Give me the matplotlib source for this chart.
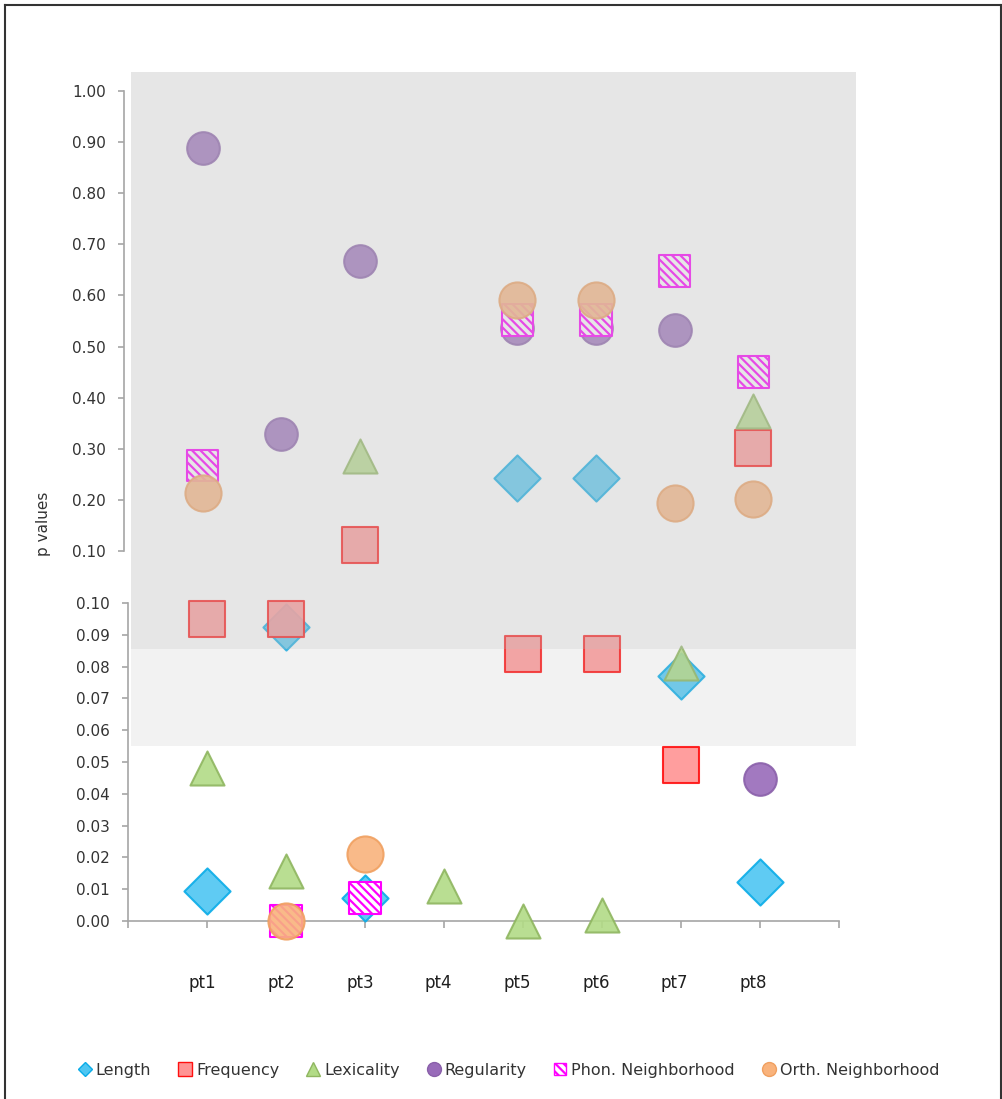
# p values per participant, split into an upper (0.1-1.0) and a lower (0-0.1) panel

import numpy as np
import matplotlib
matplotlib.use("Agg")
import matplotlib.pyplot as plt
import matplotlib.transforms as mtransforms
from matplotlib.lines import Line2D
from matplotlib.patches import Rectangle, Patch

categories = ["pt1", "pt2", "pt3", "pt4", "pt5", "pt6", "pt7", "pt8"]

length = [0.0094, 0.0925, 0.0072, np.nan, 0.243, 0.243, 0.077, 0.0123]
frequency = [0.095, 0.095, 0.112, np.nan, 0.084, 0.084, 0.049, 0.302]
lexicality = [0.048, 0.0157, 0.286, 0.011, 0.0, 0.002, 0.081, 0.374]
regularity = [0.889, 0.329, 0.668, np.nan, 0.536, 0.536, 0.532, 0.0447]
phon_neigh = [0.268, 0.0, 0.0072, np.nan, 0.552, 0.552, 0.648, 0.45]
orth_neigh = [0.213, 0.0, 0.021, np.nan, 0.591, 0.591, 0.194, 0.202]

upper_ticks = [0.1, 0.2, 0.3, 0.4, 0.5, 0.6, 0.7, 0.8, 0.9, 1.0]
lower_ticks = [0.0, 0.01, 0.02, 0.03, 0.04, 0.05, 0.06, 0.07, 0.08, 0.09, 0.1]

W, H = 1003, 1099
axis_color = "#a6a6a6"
text_color = "#333333"
phon_hatch = "\\\\\\\\"

plt.rcParams["hatch.linewidth"] = 1.6

fig = plt.figure(figsize=(W / 100, H / 100), dpi=100)


def px_box(left, top, right, bottom):
    # pixel box (image coords) -> figure fraction [x0, y0, w, h]
    return [left / W, 1 - bottom / H, (right - left) / W, (bottom - top) / H]


ax_up = fig.add_axes(px_box(124, 91, 832, 551))
ax_lo = fig.add_axes(px_box(128, 603, 839, 921))

series = [
    # values, marker, size, face, edge, hatch
    (length, "D", 23.5, "#4ec6f2", "#0aace8", None),
    (frequency, "s", 26.5, "#ff9494", "#ff1010", None),
    (lexicality, "^", 24.5, "#b2db86", "#8fb660", None),
    (regularity, "o", 23.5, "#986bb9", "#8a60aa", None),
    (phon_neigh, "s", 22.5, "white", "#ff00ff", phon_hatch),
    (orth_neigh, "o", 26.0, "#f9b37c", "#f0a060", None),
]

x = np.arange(1, len(categories) + 1)
for z, (vals, mk, ms, fc, ec, hatch) in enumerate(series):
    vals = np.array(vals, dtype=float)
    upper = vals > 0.1
    lower = vals <= 0.1
    for ax, mask in ((ax_up, upper), (ax_lo, lower)):
        if not mask.any():
            continue
        ax.scatter(
            x[mask], vals[mask], s=ms ** 2, marker=mk,
            facecolor=fc, edgecolor=ec, linewidth=1.5, hatch=hatch,
            alpha=0.9 if hatch is None else 1.0,
            zorder=3 + z, clip_on=False,
        )

# upper panel: only the value axis is shown
ax_up.set_xlim(0, 9)
ax_up.set_ylim(0.1, 1.0)
ax_up.set_yticks(upper_ticks)
ax_up.set_yticklabels([f"{t:.2f}" for t in upper_ticks])
ax_up.set_xticks([])
for side in ["top", "right", "bottom"]:
    ax_up.spines[side].set_visible(False)

# lower panel
ax_lo.set_xlim(0, 9)
ax_lo.set_ylim(0.0, 0.1)
ax_lo.set_yticks(lower_ticks)
ax_lo.set_yticklabels([f"{t:.2f}" for t in lower_ticks])
ax_lo.set_xticks(np.arange(0, 10))
ax_lo.set_xticklabels([])
for side in ["top", "right"]:
    ax_lo.spines[side].set_visible(False)

for ax in (ax_up, ax_lo):
    ax.patch.set_alpha(0)
    ax.spines["left"].set_color(axis_color)
    ax.spines["bottom"].set_color(axis_color)
    ax.spines["left"].set_linewidth(1.2)
    ax.spines["bottom"].set_linewidth(1.2)
    ax.tick_params(axis="y", direction="out", length=4.5, width=1.2,
                   color=axis_color, labelcolor=text_color, labelsize=11, pad=8.5)
    ax.tick_params(axis="x", direction="out", length=5, width=1.2,
                   color=axis_color)

# category labels sit well below the lower axis, spaced like the upper panel
trans = mtransforms.blended_transform_factory(ax_up.transData, fig.transFigure)
for xi, lab in zip(x, categories):
    fig.text(xi, 1 - 983 / H, lab, transform=trans, ha="center", va="center",
             fontsize=12, color="#1f1f1f")

fig.text(44 / W, 1 - 524 / H, "p values", rotation=90, ha="center", va="center",
         fontsize=11, color=text_color)

# grey semi-transparent bands laid over the plot
fig.add_artist(Rectangle(px_box(131, 72, 856, 649)[:2], 725 / W, 577 / H,
                         transform=fig.transFigure, facecolor="#bfbfbf",
                         alpha=0.39, edgecolor="none", zorder=20))
fig.add_artist(Rectangle(px_box(131, 649, 856, 746)[:2], 725 / W, 97 / H,
                         transform=fig.transFigure, facecolor="#bfbfbf",
                         alpha=0.2, edgecolor="none", zorder=20))

# outer frame of the picture
for xs, ys in (([5 / W, 5 / W], [0, 1 - 5 / H]),
               ([5 / W, 1001 / W], [1 - 5 / H, 1 - 5 / H]),
               ([1001 / W, 1001 / W], [0, 1 - 5 / H])):
    fig.add_artist(Line2D(xs, ys, transform=fig.transFigure, color="#333333",
                          linewidth=1.5, zorder=30))

handles = [
    Line2D([], [], marker="D", ls="none", ms=7.5, mfc="#4ec6f2", mec="#0aace8"),
    Line2D([], [], marker="s", ls="none", ms=9.5, mfc="#ff9494", mec="#ff1010"),
    Line2D([], [], marker="^", ls="none", ms=10, mfc="#b2db86", mec="#8fb660"),
    Line2D([], [], marker="o", ls="none", ms=10, mfc="#986bb9", mec="#8a60aa"),
    Patch(facecolor="white", edgecolor="#ff00ff", hatch=phon_hatch),
    Line2D([], [], marker="o", ls="none", ms=10, mfc="#f9b37c", mec="#f0a060"),
]
labels = ["Length", "Frequency", "Lexicality", "Regularity",
          "Phon. Neighborhood", "Orth. Neighborhood"]
fig.legend(handles, labels, loc="center", bbox_to_anchor=(509 / W, 1 - 1070 / H),
           ncol=6, frameon=False, fontsize=11.5, handlelength=0.75,
           handleheight=0.75, handletextpad=0.3, columnspacing=1.75,
           labelcolor=text_color)

fig.savefig("out.png", dpi=100)
